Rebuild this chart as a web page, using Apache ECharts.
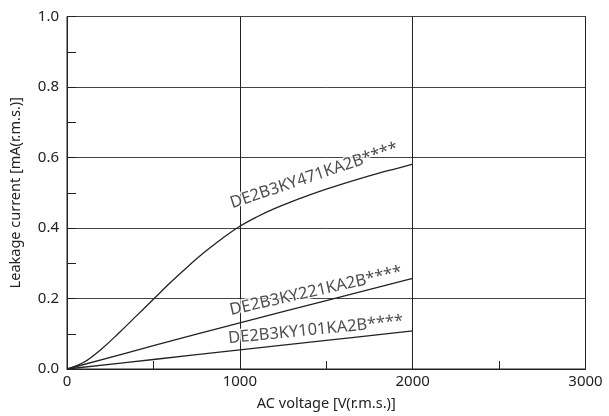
<!DOCTYPE html>
<html><head><meta charset="utf-8">
<script src="https://cdn.jsdelivr.net/npm/echarts@6/dist/echarts.min.js"></script>
<style>html,body{margin:0;padding:0;background:#fff}#c{width:609px;height:416px}</style>
</head><body><div id="c"></div>
<script>
const voltage471 = [0, 100, 200, 300, 400, 500, 600, 700, 800, 900, 1000, 1100, 1200, 1300, 1400, 1500, 1600, 1700, 1800, 1900, 2000];
const current471 = [0, 0.02, 0.057, 0.102, 0.15, 0.198, 0.246, 0.291, 0.333, 0.371, 0.405, 0.432, 0.455, 0.475, 0.493, 0.51, 0.526, 0.541, 0.555, 0.568, 0.581];
const voltage221 = [0, 500, 1000, 1500, 2000];
const current221 = [0, 0.066, 0.131, 0.194, 0.257];
const voltage101 = [0, 500, 1000, 1500, 2000];
const current101 = [0, 0.027, 0.054, 0.081, 0.108];
const labelNames = ['DE2B3KY471KA2B****', 'DE2B3KY221KA2B****', 'DE2B3KY101KA2B****'];
const labelX = [1430, 1440, 1440];
const labelY = [0.548, 0.221, 0.111];
const labelAngle = [18.6, 12.7, 5.7];
const xTicks = [0, 1000, 2000, 3000];
const yTicks = [0, 0.2, 0.4, 0.6, 0.8, 1.0];

const font = 'Noto Sans';
const pair = (xs, ys) => xs.map((x, i) => [x, ys[i]]);
const lineSeries = (xs, ys) => ({
  type: 'line', data: pair(xs, ys), smooth: 0.4, showSymbol: false, symbol: 'none',
  lineStyle: { color: '#222', width: 1.3 }, z: 3, silent: true
});
const chart = echarts.init(document.getElementById('c'), null, { renderer: 'canvas' });
chart.setOption({
  animation: false,
  grid: { left: 63.5, right: 23.5, top: 16.5, bottom: 47, show: true, borderColor: '#222', borderWidth: 1 },
  xAxis: {
    type: 'value', min: xTicks[0], max: xTicks[xTicks.length - 1], interval: 1000,
    name: 'AC voltage [V(r.m.s.)]', nameLocation: 'middle', nameGap: 27,
    nameTextStyle: { fontFamily: font, fontSize: 14.5, color: '#222' },
    axisLine: { lineStyle: { color: '#222', width: 1 } },
    axisTick: { show: true, inside: true, length: 8, lineStyle: { color: '#222' } },
    minorTick: { show: true, splitNumber: 2, length: 8, lineStyle: { color: '#222' } },
    axisLabel: { fontFamily: font, fontSize: 15, color: '#222', margin: 5, formatter: v => String(v) },
    splitLine: { show: true, lineStyle: { color: '#222', width: 1 } }
  },
  yAxis: {
    type: 'value', min: yTicks[0], max: yTicks[yTicks.length - 1], interval: 0.2,
    name: 'Leakage current [mA(r.m.s.)]', nameLocation: 'middle', nameGap: 44,
    nameTextStyle: { fontFamily: font, fontSize: 14.5, color: '#222' },
    axisLine: { lineStyle: { color: '#222', width: 1 } },
    axisTick: { show: true, inside: true, length: 9, lineStyle: { color: '#222' } },
    minorTick: { show: true, splitNumber: 2, length: 9, lineStyle: { color: '#222' } },
    axisLabel: { fontFamily: font, fontSize: 15, color: '#222', margin: 8, formatter: v => v.toFixed(1) },
    splitLine: { show: true, lineStyle: { color: '#444', width: 1 } }
  },
  series: [
    lineSeries(voltage471, current471),
    lineSeries(voltage221, current221),
    lineSeries(voltage101, current101),
    {
      type: 'scatter', symbolSize: 0, z: 5, silent: true,
      data: labelNames.map((n, i) => ({
        value: [labelX[i], labelY[i]], name: n,
        label: { rotate: labelAngle[i] }
      })),
      label: {
        show: true, position: 'inside', formatter: p => p.name,
        fontFamily: font, fontSize: 16.5, color: '#222',
        textBorderColor: '#fff', textBorderWidth: 3
      }
    }
  ]
});
</script></body></html>
